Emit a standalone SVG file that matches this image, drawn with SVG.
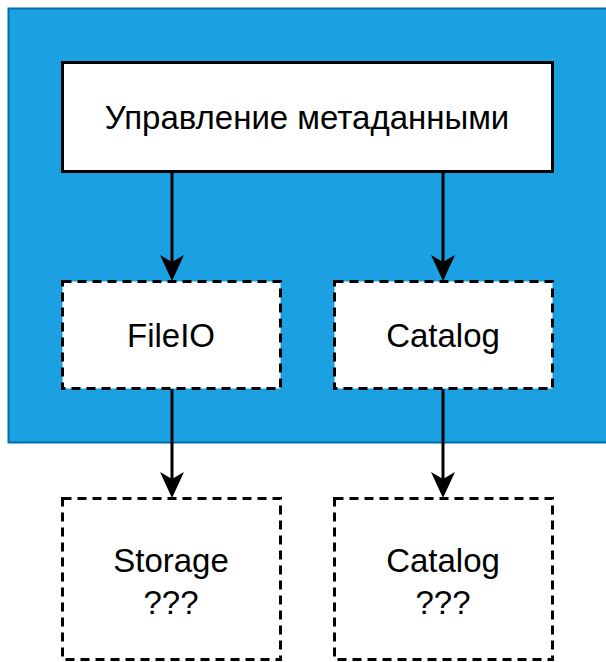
<svg xmlns="http://www.w3.org/2000/svg" width="606" height="662" viewBox="0 0 606 662">
  <style>
    .solid { fill: #ffffff; stroke: #000000; stroke-width: 3; }
    .dashed { fill: #ffffff; stroke: #000000; stroke-width: 3; stroke-dasharray: 9 6; }
    .label { font-family: "Liberation Sans", Arial, sans-serif; font-size: 33px; fill: #000000; text-anchor: middle; }
    .edge { stroke: #000000; stroke-width: 3; fill: none; }
    .head { fill: #000000; }
  </style>
  <rect width="606" height="662" fill="#ffffff"/>

  <!-- container -->
  <g id="container">
    <rect x="8.5" y="8.5" width="610" height="434" fill="#1ba1e2" stroke="#006eaf" stroke-width="2"/>
  </g>

  <g id="connectors">
    <line class="edge" x1="172" y1="172" x2="172" y2="262"/>
    <path class="head" d="M160,255 L172,281 L184,255 L172,262 Z"/>
    <line class="edge" x1="443" y1="172" x2="443" y2="262"/>
    <path class="head" d="M431,255 L443,281 L455,255 L443,262 Z"/>
    <line class="edge" x1="172" y1="389" x2="172" y2="479"/>
    <path class="head" d="M160,472 L172,498 L184,472 L172,479 Z"/>
    <line class="edge" x1="443" y1="389" x2="443" y2="479"/>
    <path class="head" d="M431,472 L443,498 L455,472 L443,479 Z"/>
  </g>

  <g id="metadata">
    <rect class="solid" x="62.5" y="62.5" width="490" height="109"/>
    <text class="label" x="307" y="129">Управление метаданными</text>
  </g>

  <g id="fileio">
    <rect class="dashed" x="62.5" y="281.5" width="218" height="107"/>
    <text class="label" x="171" y="347">FileIO</text>
  </g>

  <g id="catalog">
    <rect class="dashed" x="334.5" y="281.5" width="218" height="107"/>
    <text class="label" x="443" y="347">Catalog</text>
  </g>

  <g id="storage">
    <rect class="dashed" x="62.5" y="498.5" width="218" height="161"/>
    <text class="label" x="171" y="572">Storage</text>
    <text class="label" x="171" y="614">???</text>
  </g>

  <g id="catalog-ext">
    <rect class="dashed" x="334.5" y="498.5" width="218" height="161"/>
    <text class="label" x="443" y="572">Catalog</text>
    <text class="label" x="443" y="614">???</text>
  </g>
</svg>
